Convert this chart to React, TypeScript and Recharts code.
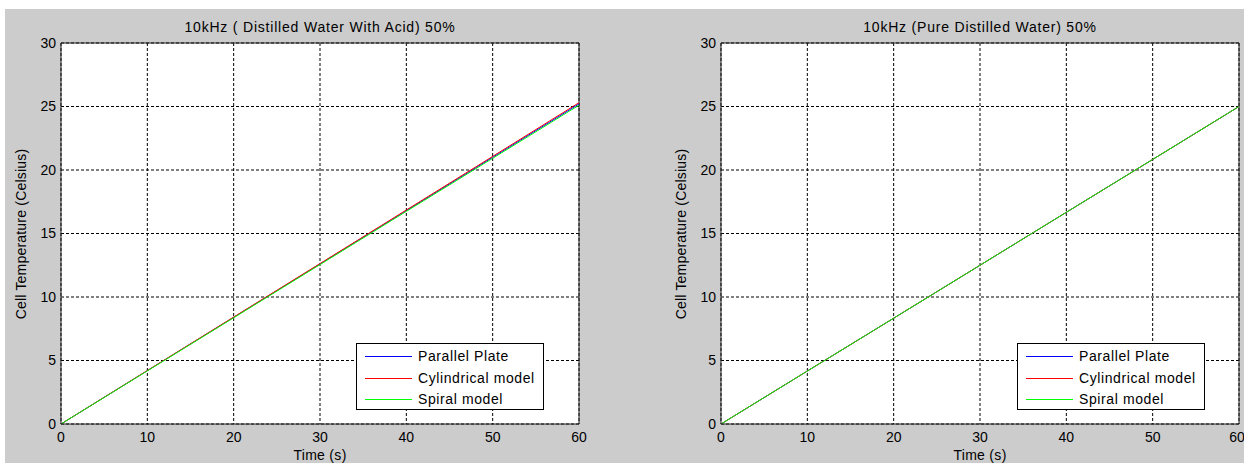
import { LineChart, Line, XAxis, YAxis, CartesianGrid, Legend, ReferenceLine } from 'recharts';

const FONT = '"Liberation Sans", Arial, Helvetica, sans-serif';

const timeS = [0, 10, 20, 30, 40, 50, 60];
// 10kHz, distilled water with acid
const acidParallel = [0, 4.2, 8.4, 12.6, 16.8, 21.0, 25.2];
const acidCylindrical = [0, 4.21, 8.42, 12.63, 16.85, 21.07, 25.3];
const acidSpiral = [0, 4.18, 8.36, 12.55, 16.74, 20.92, 25.1];
// 10kHz, pure distilled water
const pureParallel = [0, 4.17, 8.33, 12.5, 16.67, 20.83, 25.0];
const pureCylindrical = [0, 4.17, 8.33, 12.5, 16.67, 20.83, 25.0];
const pureSpiral = [0, 4.17, 8.33, 12.5, 16.67, 20.83, 25.0];

const xTicks = [0, 10, 20, 30, 40, 50, 60];
const yTicks = [0, 5, 10, 15, 20, 25, 30];
const seriesNames = ['Parallel Plate', 'Cylindrical model', 'Spiral model'];
const seriesColors = ['#0000ff', '#ff0000', '#00ff00'];

function buildRows(a: number[], b: number[], c: number[]) {
  return timeS.map((t, i) => ({ t, s0: a[i], s1: b[i], s2: c[i] }));
}

const LegendBox = () => (
  <div
    style={{
      position: 'relative',
      width: 188,
      height: 67,
      boxSizing: 'border-box',
      border: '1px solid #000',
      background: '#fff',
      fontFamily: FONT,
      fontSize: 14,
      letterSpacing: 0.6,
      color: '#000',
    }}
  >
    {seriesNames.map((name, i) => (
      <div key={name}>
        <div
          style={{
            position: 'absolute',
            left: 8,
            top: 12 + i * 21.5,
            width: 47,
            height: 1,
            background: seriesColors[i],
          }}
        />
        <div style={{ position: 'absolute', left: 61, top: 5 + i * 21.5, lineHeight: '14px', whiteSpace: 'nowrap' }}>
          {name}
        </div>
      </div>
    ))}
  </div>
);

type PanelProps = {
  left: number;
  plotLeft: number;
  plotRight: number;
  legendLeft: number;
  title: string;
  rows: { t: number; s0: number; s1: number; s2: number }[];
};

function Panel({ left, plotLeft, plotRight, legendLeft, title, rows }: PanelProps) {
  const width = 622;
  const yAxisW = 40;
  const plotW = plotRight - plotLeft;
  const localLeft = plotLeft - left;
  const tickStyle = { fill: '#000', fontSize: 14, fontFamily: FONT };
  return (
    <>
      <div
        style={{
          position: 'absolute',
          left: plotLeft,
          top: 20,
          width: plotW,
          textAlign: 'center',
          fontFamily: FONT,
          fontSize: 14,
          lineHeight: '14px',
          letterSpacing: 0.8,
          color: '#000',
          whiteSpace: 'nowrap',
        }}
      >
        {title}
      </div>
      <div
        style={{
          position: 'absolute',
          left: plotLeft,
          top: 448,
          width: plotW,
          textAlign: 'center',
          fontFamily: FONT,
          fontSize: 14,
          lineHeight: '14px',
          letterSpacing: 0.3,
          color: '#000',
        }}
      >
        Time (s)
      </div>
      <div
        style={{
          position: 'absolute',
          left: plotLeft - 40.5 - 150,
          top: 233.5 - 7,
          width: 300,
          height: 14,
          textAlign: 'center',
          fontFamily: FONT,
          fontSize: 14,
          lineHeight: '14px',
          letterSpacing: 0.2,
          color: '#000',
          transform: 'rotate(-90deg)',
          whiteSpace: 'nowrap',
        }}
      >
        Cell Temperature (Celsius)
      </div>
      <div style={{ position: 'absolute', left, top: 0 }}>
        <LineChart
          width={width}
          height={463}
          data={rows}
          margin={{ top: 43, right: width - (plotRight - left), bottom: 0, left: localLeft - yAxisW }}
        >
          <CartesianGrid
            fill="#fff"
            stroke="#000"
            strokeDasharray="3 2"
            horizontalValues={yTicks}
            verticalValues={xTicks}
          />
          <XAxis
            dataKey="t"
            type="number"
            domain={[0, 60]}
            ticks={xTicks}
            height={39}
            tickLine={false}
            tickSize={0}
            tickMargin={8}
            axisLine={{ stroke: '#222' }}
            tick={tickStyle}
          />
          <YAxis
            type="number"
            domain={[0, 30]}
            ticks={yTicks}
            width={yAxisW}
            tickLine={false}
            tickSize={0}
            tickMargin={5}
            axisLine={{ stroke: '#222' }}
            tick={tickStyle}
          />
          <ReferenceLine y={30} stroke="#222" />
          <ReferenceLine x={60} stroke="#222" />
          {['s0', 's1', 's2'].map((key, i) => (
            <Line
              key={key}
              dataKey={key}
              name={seriesNames[i]}
              stroke={seriesColors[i]}
              strokeWidth={1}
              dot={false}
              type="linear"
              isAnimationActive={false}
            />
          ))}
          <Legend
            layout="horizontal"
            verticalAlign="middle"
            align="center"
            content={<LegendBox />}
            wrapperStyle={{ left: legendLeft - left, top: 343, width: 188, height: 67 }}
          />
        </LineChart>
      </div>
    </>
  );
}

export default function App() {
  return (
    <div
      style={{
        position: 'fixed',
        left: 0,
        top: 0,
        width: 1244,
        height: 463,
        background: '#fff',
        overflow: 'hidden',
      }}
    >
      <div style={{ position: 'absolute', left: 5, top: 9, right: 0, bottom: 0, background: '#cccccc' }} />
      <Panel
        left={0}
        plotLeft={61}
        plotRight={579}
        legendLeft={356}
        title="10kHz ( Distilled Water With Acid) 50%"
        rows={buildRows(acidParallel, acidCylindrical, acidSpiral)}
      />
      <Panel
        left={622}
        plotLeft={721}
        plotRight={1239}
        legendLeft={1017}
        title="10kHz (Pure Distilled Water) 50%"
        rows={buildRows(pureParallel, pureCylindrical, pureSpiral)}
      />
    </div>
  );
}
